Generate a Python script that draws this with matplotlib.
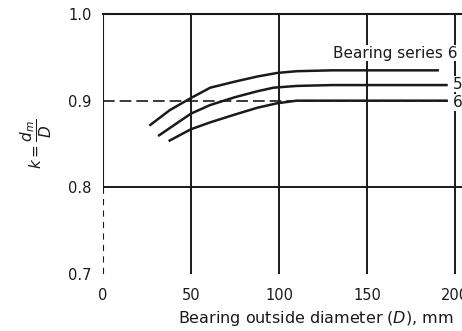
import numpy as np
import matplotlib
matplotlib.use('Agg')
import matplotlib.pyplot as plt

# curves: bearing outside diameter D (mm) -> k = dm/D
x_top = [27, 38, 50, 61, 75, 88, 99, 110, 130, 190]
k_top = [0.872, 0.889, 0.903, 0.915, 0.922, 0.928, 0.932, 0.934, 0.935, 0.935]
x_mid = [32, 50, 61, 75, 88, 97, 110, 130, 195]
k_mid = [0.860, 0.885, 0.895, 0.904, 0.911, 0.915, 0.917, 0.918, 0.918]
x_low = [38, 50, 61, 75, 88, 99, 110, 130, 195]
k_low = [0.854, 0.867, 0.875, 0.884, 0.892, 0.897, 0.900, 0.900, 0.900]

series_labels = ['Bearing series 6', '5', '6']
label_x = [130.5, 198.5, 198.5]
label_k = [0.955, 0.919, 0.898]

xticks = [0, 50, 100, 150, 200]
yticks = [0.7, 0.8, 0.9, 1.0]

ink = '#1a1a1a'

fig = plt.figure(figsize=[4.62, 3.31], dpi=100)
ax = fig.add_axes([0.2223, 0.1722, 0.7823, 0.7855])
ax.set_xlim(0, 205)
ax.set_ylim(0.7, 1.0)

# grid
for xv in xticks[1:]:
    ax.plot([xv, xv], [0.7, 1.0], color=ink, lw=1.4, zorder=1)
ax.plot([0, 205], [0.8, 0.8], color=ink, lw=1.4, zorder=1)
ax.plot([0, 205], [0.9, 0.9], color=ink, lw=1.2, linestyle=(0, (7, 3)), zorder=1)
ax.plot([0, 0], [0.8, 1.0], color=ink, lw=1.5, zorder=1)
ax.plot([0, 0], [0.7, 0.8], color=ink, lw=1.5, linestyle=(0, (3, 2.5)), zorder=1)

# curves
ax.plot(x_top, k_top, color=ink, lw=1.8, zorder=2)
ax.plot(x_mid, k_mid, color=ink, lw=1.8, zorder=2)
ax.plot(x_low, k_low, color=ink, lw=1.8, zorder=2)

for lab, lx, lk in zip(series_labels, label_x, label_k):
    ax.text(lx, lk, lab, ha='left', va='center', fontsize=11, color=ink,
            bbox=dict(fc='w', ec='none', pad=0.5), zorder=3, clip_on=False)

for s in ['left', 'right', 'bottom']:
    ax.spines[s].set_visible(False)
ax.spines['top'].set_color(ink)
ax.spines['top'].set_linewidth(1.5)

ax.set_xticks(xticks)
ax.set_xticklabels([str(v) for v in xticks])
ax.set_yticks(yticks)
ax.set_yticklabels(['%.1f' % v for v in yticks])
ax.tick_params(length=0, labelsize=10.5, colors=ink)
ax.tick_params(axis='x', pad=10)
ax.tick_params(axis='y', pad=8)

ax.set_ylabel(r'$k=\dfrac{d_m}{D}$', fontsize=11, color=ink, labelpad=10)
fig.text(178/462, 1 - 319/331, r'Bearing outside diameter ($D$), mm',
         ha='left', va='center', fontsize=11.5, color=ink)

fig.savefig('out.png', dpi=100)
